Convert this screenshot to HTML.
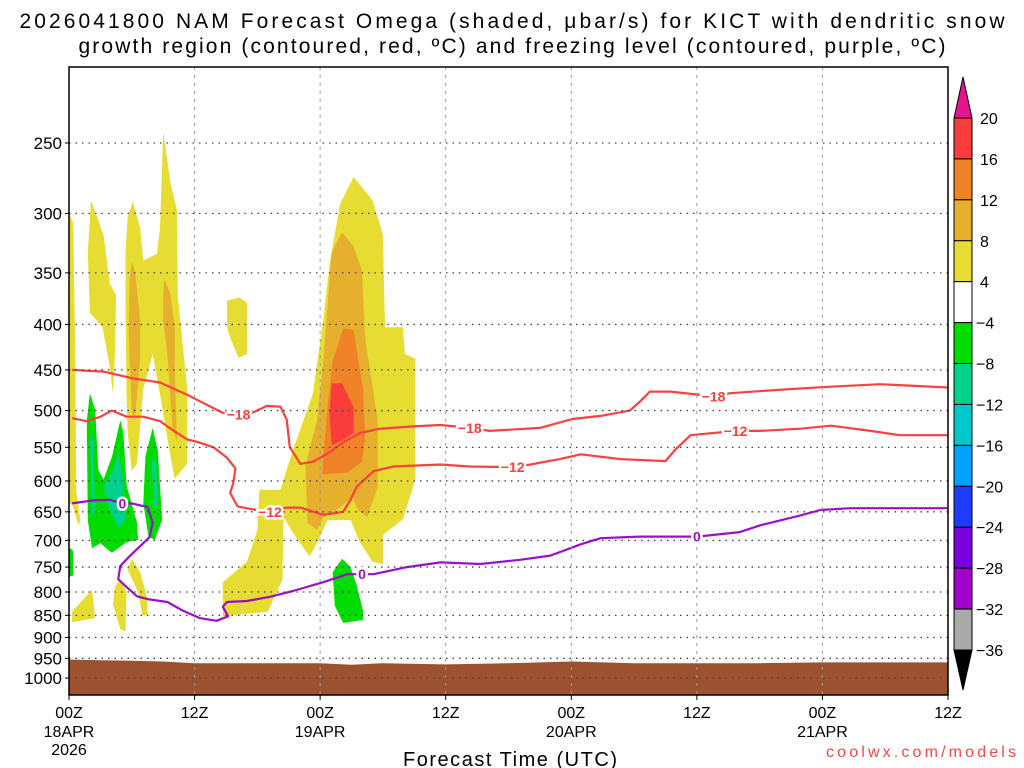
<!DOCTYPE html>
<html><head><meta charset="utf-8"><style>
html,body{margin:0;padding:0;background:#fff;width:1024px;height:768px;overflow:hidden}
svg{display:block;font-family:"Liberation Sans",sans-serif}
</style></head><body>
<svg id="chart" width="1024" height="768" viewBox="0 0 1024 768">
<text x="512" y="28" text-anchor="middle" font-size="21" textLength="985" lengthAdjust="spacing" fill="#000">2026041800 NAM Forecast Omega (shaded, μbar/s) for KICT with dendritic snow</text>
<text x="512" y="53" text-anchor="middle" font-size="21" textLength="867" lengthAdjust="spacing" fill="#000">growth region (contoured, red, ºC) and freezing level (contoured, purple, ºC)</text>
<g id="plot"></g>
<g id="cbar"></g>
<text x="510" y="766" text-anchor="middle" font-size="20" textLength="214" lengthAdjust="spacing" fill="#000">Forecast Time (UTC)</text>
<text x="1016" y="757" text-anchor="end" font-size="16" textLength="190" lengthAdjust="spacing" fill="#f04848">coolwx.com/models</text>
</svg>
<script>
// ---- data ----
const pressureTicks=[250,300,350,400,450,500,550,600,650,700,750,800,850,900,950,1000];
const timeTicks=[0,12,24,36,48,60,72,84];
const timeLabels=["00Z","12Z","00Z","12Z","00Z","12Z","00Z","12Z"];
const dateLabels=["18APR","","19APR","","20APR","","21APR",""];
const surfaceHours=[0,3,6,9,12,18,24,27,30,36,42,48,54,60,66,72,78,84];
const surfaceP=[953,955,956,958,962,962,962,966,962,965,962,958,962,962,962,960,960,960];
const cbarLevels=[20,16,12,8,4,-4,-8,-12,-16,-20,-24,-28,-32,-36];
const cbarColors=["#fa3c3c","#f08228","#e6af2d","#e6dc32","#ffffff","#00dc00","#00d28c","#00c8c8","#00a0ff","#1e3cff","#7800dc","#a000c8","#aaaaaa"];
const yellowBig=[[27.2,273],[29.0,290],[30.0,317],[30.2,403],[31.9,403],[32.1,432],[33.1,437],[33.1,598],[31.9,663],[30.0,690],[30.0,744],[29.0,740],[27.8,703],[26.9,664],[24.7,664],[24.0,693],[23.0,730],[21.4,686],[20.5,659],[20.4,774],[19.0,842],[14.7,852],[14.7,780],[17.0,740],[18.0,681],[18.2,614],[20.2,614],[21.4,554],[23.3,479],[24.3,396],[24.9,342],[25.9,293]];
const darkYellowBig=[[27.2,327],[28.0,348],[28.3,414],[29.5,513],[29.5,610],[28.5,659],[27.6,647],[27.1,626],[25.2,652],[24.3,659],[23.7,681],[22.8,669],[22.6,576],[23.7,513],[24.3,440],[24.8,369],[25.1,332],[26.1,315]];
const orangeCore=[[26.2,404],[27.2,406],[28.1,473],[28.3,540],[28.0,571],[26.6,587],[24.2,590],[24.3,564],[24.8,484],[25.2,440]];
const redCore=[[25.1,466],[26.1,466],[27.2,496],[27.2,530],[26.1,540],[25.1,547],[24.9,504]];
const yellowSmall=[[15.1,376],[16.3,373],[17.0,378],[17.0,432],[16.2,436],[15.4,414],[15.1,403]];
const greenLate=[[26.1,734],[26.9,750],[27.5,787],[28.1,840],[28.1,860],[26.2,867],[25.4,829],[25.2,760]];
const yellowColA=[[2.1,290],[3.3,317],[3.9,360],[4.5,371],[4.4,432],[4.2,479],[3.9,447],[3.2,403],[2.0,388],[1.8,332]];
const yellowColB=[[6.1,291],[6.8,312],[7.1,339],[8.4,333],[8.7,312],[9.0,243],[9.7,277],[10.3,297],[10.4,372],[11.3,472],[11.3,574],[10.1,597],[9.7,563],[8.7,479],[8.0,432],[7.1,472],[6.5,574],[6.0,585],[5.6,529],[5.5,479],[5.4,384],[5.4,332],[5.6,303]];
const darkYellowB1=[[6.0,340],[6.3,348],[6.8,396],[6.8,437],[6.3,513],[6.0,501],[5.7,411],[5.8,355]];
const darkYellowB2=[[9.1,356],[9.7,370],[10.1,403],[10.1,447],[10.3,541],[9.9,525],[9.4,432],[9.0,396],[9.0,370]];
const yellowEdge=[[0,299],[0.4,308],[0.6,432],[0.7,618],[1.1,664],[0.9,673],[0.3,636],[0,640]];
const greenA=[[2.0,478],[2.5,499],[2.8,583],[3.3,598],[4.1,564],[4.9,513],[5.2,530],[5.5,607],[6.5,669],[6.6,699],[5.5,703],[4.1,723],[3.0,705],[2.2,714],[1.8,664],[1.7,513]];
const tealA1=[[2.0,536],[2.3,539],[2.5,652],[2.2,656]];
const tealA2=[[4.7,558],[5.2,600],[5.4,664],[4.7,678],[3.9,647],[3.3,609],[4.2,585]];
const greenB=[[8.0,523],[8.5,556],[8.9,664],[8.2,699],[7.6,693],[7.1,636],[7.3,563]];
const tealB=[[7.9,572],[8.3,565],[8.5,640],[8.1,645]];
const yellowLow1=[[0.3,842],[2.2,795],[2.5,856],[0.3,865]];
const yellowLow2=[[4.9,774],[5.5,800],[5.4,886],[4.9,881],[4.2,826],[4.4,790]];
const yellowLow3=[[6.0,734],[6.8,760],[7.5,815],[7.5,850],[7.0,850],[6.6,800],[5.6,754]];
const greenEdge=[[0,712],[0.4,720],[0.4,766],[0,770]];
const shadeRegions=[[3,yellowBig,"omega-4-8-main"],[2,darkYellowBig,"omega-8-12-main"],[1,orangeCore,"omega-12-16-core"],[0,redCore,"omega-16-20-core"],[3,yellowSmall,"omega-4-8-small"],[5,greenLate,"omega-neg4-8-late"],[3,yellowColA,"omega-4-8-col-a"],[3,yellowColB,"omega-4-8-col-b"],[2,darkYellowB1,"omega-8-12-b1"],[2,darkYellowB2,"omega-8-12-b2"],[3,yellowEdge,"omega-4-8-edge"],[5,greenA,"omega-neg4-8-a"],[6,tealA1,"omega-neg8-12-a1"],[6,tealA2,"omega-neg8-12-a2"],[5,greenB,"omega-neg4-8-b"],[6,tealB,"omega-neg8-12-b"],[3,yellowLow1,"omega-4-8-low1"],[3,yellowLow2,"omega-4-8-low2"],[3,yellowLow3,"omega-4-8-low3"],[5,greenEdge,"omega-neg4-8-edge"]];
const iso18=[[0.3,450],[3.3,452],[6.1,460],[8.7,465],[11.3,480],[12.8,490],[14.7,503],[16.2,505],[17.5,503],[18.9,494],[20.2,495],[20.8,512],[21.1,550],[22.1,574],[23.3,571],[24.7,559],[26.2,543],[27.8,530],[29.7,524],[32.9,521],[35.5,519],[38.3,523],[40.2,527],[45.0,523],[48.1,511],[50.8,507],[53.6,500],[54.6,488],[55.5,476],[57.5,476],[61.6,482],[63.2,478],[68.9,473],[72.8,470],[77.5,467],[84,471]];
const iso18Labels=[[16.2,505],[38.3,523],[61.6,482]];
const iso12=[[0.3,510],[1.7,514],[3.0,508],[4.1,500],[5.5,508],[7.1,508],[8.7,514],[9.9,526],[11.3,539],[12.2,542],[13.8,550],[15.1,565],[15.9,581],[15.7,603],[15.4,619],[16.1,641],[17.6,646],[19.2,650],[20.8,643],[22.1,643],[24.3,655],[26.2,650],[26.9,630],[27.5,609],[29.1,585],[31.0,578],[35.5,575],[38.3,578],[42.4,579],[44.1,575],[46.9,567],[48.9,560],[52.7,567],[57.0,570],[57.9,554],[59.4,533],[63.7,527],[66.1,527],[69.9,524],[72.8,520],[76.6,527],[79.4,533],[84,533]];
const iso12Labels=[[19.2,650],[42.4,579],[63.7,527]];
const iso0=[[0.3,636],[2.3,631],[3.9,630],[5.1,636],[6.0,636],[7.5,642],[8.0,669],[7.7,694],[6.5,716],[5.8,729],[4.9,748],[4.7,774],[5.5,790],[6.5,809],[7.5,815],[9.4,821],[10.9,840],[12.5,856],[14.1,862],[15.2,852],[14.7,831],[15.1,821],[17.0,819],[19.2,810],[21.4,798],[24.3,780],[26.6,764],[28.0,764],[29.1,764],[32.3,750],[35.5,741],[39.3,744],[43.1,736],[46.0,728],[48.9,707],[50.8,696],[54.6,693],[60.0,693],[64.1,685],[66.1,673],[69.9,656],[71.8,647],[74.7,644],[84,644]];
const iso0Labels=[[5.1,636],[28.0,764],[60.0,693]];

// ---- scales ----
const X0=69,X1=948,Y0=67,Y1=695;
const xs=h=>X0+h*(X1-X0)/84;
const ys=p=>143+386*Math.log(p/250);
const NS="http://www.w3.org/2000/svg";
function mk(tag,attrs,parent){const e=document.createElementNS(NS,tag);for(const k in attrs)e.setAttribute(k,attrs[k]);parent.appendChild(e);return e;}
const plot=document.getElementById('plot');
const cb=document.getElementById('cbar');
const pts=a=>a.map(d=>xs(d[0]).toFixed(1)+","+ys(d[1]).toFixed(1)).join(" ");

const clip=mk('clipPath',{id:'pc'},plot);
mk('rect',{x:X0,y:Y0,width:X1-X0,height:Y1-Y0},clip);
const inner=mk('g',{'clip-path':'url(#pc)'},plot);

shadeRegions.forEach(r=>{
  const e=mk('polygon',{points:pts(r[1]),fill:cbarColors[r[0]]},inner);
  
  
});

const g=surfaceHours.map((h,i)=>[h,surfaceP[i]]);
const gp=pts(g)+" "+xs(84)+","+Y1+" "+xs(0)+","+Y1;
const ground=mk('polygon',{points:gp,fill:'#9c5230'},inner);



pressureTicks.forEach(p=>{
  const l=mk('line',{x1:X0,x2:X1,y1:ys(p),y2:ys(p),stroke:'#444','stroke-width':1.3,'stroke-dasharray':'1.5 5'},plot);
  
  
  const t=mk('text',{x:62,y:ys(p)+6,'text-anchor':'end','font-size':17,fill:'#000'},plot);
  t.textContent=p;
  
  
  mk('line',{x1:X0-4,x2:X0,y1:ys(p),y2:ys(p),stroke:'#000'},plot);
});
timeTicks.forEach((h,i)=>{
  if(i>0&&i<timeTicks.length-1){
    const l=mk('line',{x1:xs(h),x2:xs(h),y1:Y0,y2:Y1,stroke:'#999','stroke-width':1,'stroke-dasharray':'3 5'},plot);
    
    
  }
  mk('line',{x1:xs(h),x2:xs(h),y1:Y1,y2:Y1+5,stroke:'#000'},plot);
  const t=mk('text',{x:xs(h),y:718,'text-anchor':'middle','font-size':16,fill:'#000'},plot);
  t.textContent=timeLabels[i];
  
  
  if(dateLabels[i]){
    const d=mk('text',{x:xs(h),y:737,'text-anchor':'middle','font-size':16,fill:'#000'},plot);
    d.textContent=dateLabels[i];
    
    
  }
});
const yr=mk('text',{x:xs(0),y:755,'text-anchor':'middle','font-size':16,fill:'#000'},plot);
yr.textContent="2026";



function contour(data,labels,color,txt,name){
  const l=mk('polyline',{points:pts(data),fill:'none',stroke:color,'stroke-width':2.2,'stroke-linejoin':'round'},inner);
  
  
  labels.forEach((d,i)=>{
    const t=mk('text',{x:xs(d[0]),y:ys(d[1])+5,'text-anchor':'middle','font-size':14,'font-weight':'bold',fill:color,stroke:'#fff','stroke-width':5,'paint-order':'stroke'},plot);
    t.textContent=txt;
    
    
  });
}
contour(iso18,iso18Labels,'#fa4040','−18','contour-minus18');
contour(iso12,iso12Labels,'#fa4040','−12','contour-minus12');
contour(iso0,iso0Labels,'#9a10c8','0','freezing-level-contour');

const fr=mk('rect',{x:X0,y:Y0,width:X1-X0,height:Y1-Y0,fill:'none',stroke:'#000','stroke-width':1.5},plot);



const CX=954,CW=18,CT=118,CB=650;
const step=(CB-CT)/(cbarLevels.length-1);
const cy=i=>CT+i*step;
const up=mk('polygon',{points:`${CX},${CT} ${CX+CW},${CT} ${CX+CW/2},77`,fill:'#e6148c',stroke:'#000'},cb);


cbarColors.forEach((c,i)=>{
  const r=mk('rect',{x:CX,y:cy(i),width:CW,height:step,fill:c,stroke:'#000','stroke-width':1},cb);
  
  
});
const dn=mk('polygon',{points:`${CX},${CB} ${CX+CW},${CB} ${CX+CW/2},690`,fill:'#000',stroke:'#000'},cb);


cbarLevels.forEach((v,i)=>{
  const t=mk('text',{x:v<0?976:980,y:cy(i)+6,'font-size':16,fill:'#000'},cb);
  t.textContent=v<0?'−'+(-v):String(v);
  
  
});
</script>
</body></html>
